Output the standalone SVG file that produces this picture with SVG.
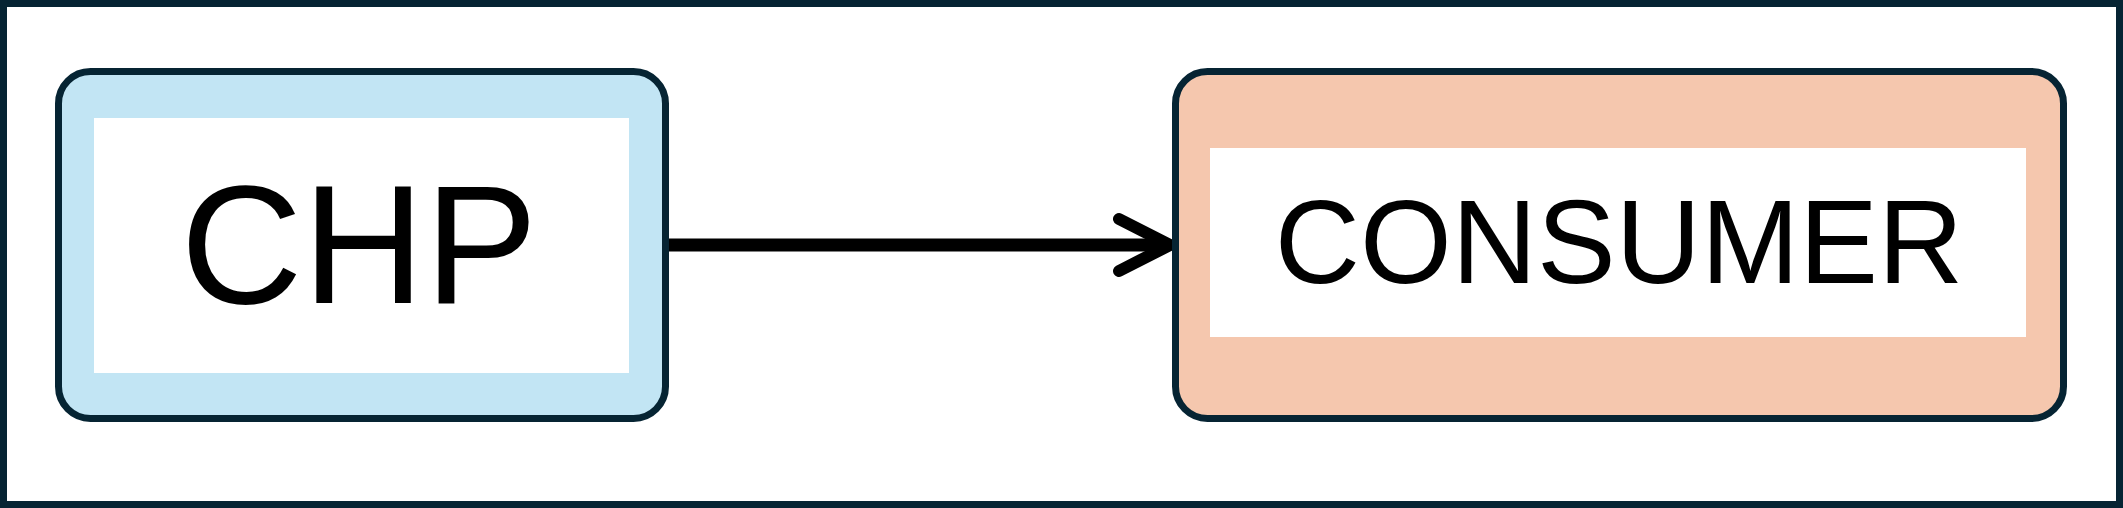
<svg xmlns="http://www.w3.org/2000/svg" width="2123" height="508" viewBox="0 0 2123 508">
<style>
.frame{fill:#ffffff;stroke:#062433;stroke-width:7}
.node{stroke:#062433;stroke-width:7}
.inner{fill:#ffffff}
.label{font-family:"Liberation Sans",Arial,sans-serif;fill:#000000;text-anchor:middle}
.conn{fill:none;stroke:#000000;stroke-width:13}
.head{fill:none;stroke:#000000;stroke-width:12;stroke-linecap:round;stroke-linejoin:miter}
</style>
<rect class="frame" x="3.5" y="3.5" width="2116" height="501"/>
<g id="connectors">
<line class="conn" x1="665" y1="245" x2="1168" y2="245"/>
<polyline class="head" points="1119,219 1170,245 1119,271"/>
</g>
<g id="node-chp">
<rect class="node" x="58.5" y="71.5" width="607" height="347" rx="32" ry="32" fill="#C2E5F4"/>
<rect class="inner" x="94" y="118" width="535" height="255"/>
<text class="label" x="359" y="303" font-size="169">CHP</text>
</g>
<g id="node-consumer">
<rect class="node" x="1175.5" y="71.5" width="888" height="347" rx="32" ry="32" fill="#F5C7AE"/>
<rect class="inner" x="1210" y="148" width="816" height="189"/>
<text class="label" x="1619" y="283" font-size="118">CONSUMER</text>
</g>
</svg>
